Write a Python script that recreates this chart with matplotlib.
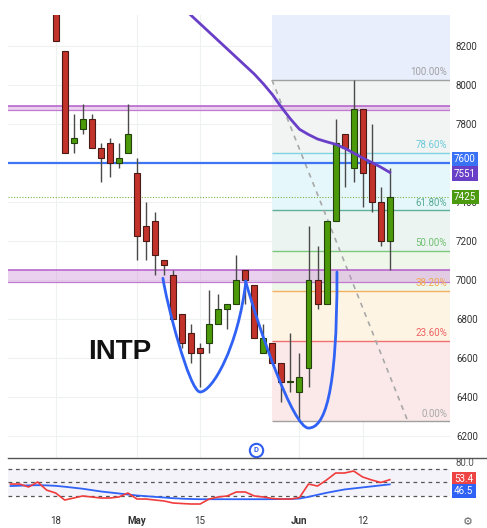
import numpy as np
import matplotlib
matplotlib.use("Agg")
import matplotlib.pyplot as plt
from matplotlib.lines import Line2D
from matplotlib.path import Path
from matplotlib.patches import PathPatch

plt.rcParams['font.family'] = ['Roboto', 'DejaVu Sans']

# daily candles, 18 Apr .. 19 Jun (trading days only)
opens = [8450, 8175, 7700, 7775, 7825, 7675, 7700, 7600, 7650, 7550,
         7275, 7300, 7100, 7025, 6825, 6725, 6650, 6675, 6775, 6850,
         6875, 7050, 6975, 6625, 6675, 6575, 6475, 6425, 6550, 7000,
         6875, 7300, 7750, 7575, 7875, 7600, 7400, 7200]
highs = [8500, 8175, 7850, 7900, 7850, 7700, 7725, 7700, 7900, 7625,
         7400, 7350, 7100, 7050, 6825, 6775, 6675, 6950, 6925, 6875,
         7125, 7050, 6975, 6775, 6675, 6575, 6725, 6625, 7275, 7175,
         7300, 7825, 7750, 8025, 7875, 7800, 7475, 7575]
lows = [8225, 7650, 7650, 7750, 7675, 7500, 7525, 7575, 7650, 7100,
        7100, 7025, 7025, 6800, 6650, 6575, 6450, 6625, 6775, 6750,
        6875, 6875, 6700, 6625, 6575, 6375, 6425, 6275, 6450, 6850,
        6875, 7300, 7475, 7500, 7375, 7350, 7175, 7050]
closes = [8225, 7650, 7725, 7825, 7675, 7625, 7600, 7625, 7750, 7225,
          7200, 7125, 7075, 6800, 6675, 6625, 6625, 6775, 6850, 6875,
          7000, 7000, 6700, 6700, 6575, 6475, 6475, 6500, 7000, 6875,
          7300, 7700, 7675, 7875, 7550, 7400, 7200, 7425]

date_pos = [0, 9, 16, 27, 34]
date_labels = ['18', 'May', '15', 'Jun', '12']

# moving average, starts at candle 14
ma_start = 14
ma_vals = [8400, 8356, 8313, 8270, 8227, 8184, 8141, 8098, 8055, 8005,
           7950, 7885, 7825, 7772, 7745, 7722, 7708, 7695, 7675, 7650,
           7625, 7602, 7578, 7551]

# oscillator panel, starts 5 bars before the first candle
osc_start = -5
osc_vals = [47, 47, 42.6, 50, 38,
            33.7, 23.3, 26.3, 29.3, 27.8, 26.3, 26.3, 27.8, 33.7, 24.8,
            24.8, 23.3, 21.9, 18.9, 18.1, 17.4, 17.4, 24.8, 27.8, 29.3,
            35.2, 35.2, 29.3, 27.8, 25.6, 24.8, 24.8, 27, 47, 44,
            53, 63.3, 63.3, 66.3, 57.4, 53, 49.3, 53.4]
osc_sig = [44.0, 44.5, 45.0, 45.3, 45.0,
           44.3, 43.0, 41.5, 40.0, 38.0, 36.0, 34.5, 33.0, 31.5, 30.0,
           29.0, 28.0, 27.0, 26.0, 25.3, 24.8, 24.5, 24.5, 24.5, 24.5,
           24.5, 24.5, 24.5, 24.5, 24.6, 24.7, 24.8, 25.5, 28.0, 31.0,
           34.0, 36.5, 39.0, 40.5, 42.0, 43.5, 45.0, 46.5]
osc_bands = [70, 50, 30]

# fibonacci retracement
fib_low = 6275
fib_high = 8025
fib_x0 = 23.95
fib_trend_x1 = 39
fib_levels = [0, 0.236, 0.382, 0.5, 0.618, 0.786, 1.0]
fib_names = ['0.00%', '23.60%', '38.20%', '50.00%', '61.80%', '78.60%', '100.00%']
fib_line_colors = ['#a0a0a0', '#f07070', '#f5b060', '#7cc87c', '#5fb09a', '#80d4e0', '#a0a0a0']
fib_text_colors = ['#a8a8a8', '#ee6060', '#f2a850', '#70c070', '#55aa92', '#6cccd9', '#a0a0a0']
fib_fills = ['#fbe9e9', '#fef4e4', '#eff7eb', '#ebf4f1', '#e6f7fb', '#f2f3f3']
fib_top_fill = '#e8eefc'

zone_hi = (7870, 7890)
zone_lo = (6990, 7050)
support = 7600
last_close = 7425

# hand drawn cups: bezier control points (bar index, price)
cup1 = [(11.88, 7008), (12.2, 6900), (14.8, 6425), (16.0, 6425),
        (17.3, 6425), (20.2, 6650), (21.07, 6994)]
cup2 = [(21.03, 6994), (22.5, 6750), (26.3, 6240), (28.0, 6240),
        (29.7, 6240), (31.2, 6400), (31.15, 7040)]

W, H = 487, 528
XMIN, XMAX = -5.28, 43.67
fig = plt.figure(figsize=(W / 100, H / 100), dpi=100)
ax = fig.add_axes([8 / W, 1 - 457.7 / H, 442 / W, 442.7 / H])
ax2 = fig.add_axes([8 / W, 1 - 512 / H, 442 / W, 54 / H])

ax.set_xlim(XMIN, XMAX)
ax.set_ylim(6088, 8358)
for s in ax.spines.values():
    s.set_visible(False)
ax.set_xticks(date_pos)
ax.set_yticks(range(6200, 8201, 200))
ax.yaxis.tick_right()
ax.tick_params(axis='y', length=0, pad=4.3, labelsize=7, labelcolor='#333333')
ax.tick_params(axis='x', length=0, labelbottom=False)
ax.grid(True, color='#eef2ef', lw=0.8, zorder=0)
ax.set_axisbelow(True)

# fib box
prices = [fib_low + f * (fib_high - fib_low) for f in fib_levels]
for i in range(len(fib_fills)):
    ax.fill_between([fib_x0, XMAX], prices[i], prices[i + 1], color=fib_fills[i], lw=0, zorder=1)
ax.fill_between([fib_x0, XMAX], fib_high, 8358, color=fib_top_fill, lw=0, zorder=1)
for p, name, lc, tc in zip(prices, fib_names, fib_line_colors, fib_text_colors):
    ax.hlines(p, fib_x0, XMAX, color=lc, lw=1, zorder=2)
    ax.annotate(name, xy=(0.993, p), xycoords=('axes fraction', 'data'),
                xytext=(0, 5.4), textcoords='offset points', ha='right', va='center',
                fontsize=7, color=tc, zorder=3)
ax.plot([fib_x0, fib_trend_x1], [fib_high, fib_low], color='#a8a8a8', lw=1.2,
        ls=(0, (3, 3)), zorder=2)

# zones and lines
for lo, hi in (zone_hi, zone_lo):
    ax.axhspan(lo, hi, fc='#cc88d8', alpha=0.38, lw=0, zorder=2)
    ax.axhline(hi, color='#b45cc8', lw=1.1, zorder=2)
    ax.axhline(lo, color='#c07ad0', lw=0.9, zorder=2)
ax.axhline(support, color='#3f74f2', lw=1.6, zorder=3)
ax.axhline(last_close, color='#7cb342', lw=0.8, ls=(0, (1, 1.5)), zorder=3)

# candles
x = np.arange(len(opens))
o = np.array(opens, float)
c = np.array(closes, float)
up = c >= o
body_lo = np.minimum(o, c)
body_h = np.maximum(np.abs(c - o), 6)
ax.vlines(x, lows, highs, color='#4a4a4a', lw=1, zorder=4)
ax.bar(x[up], body_h[up], bottom=body_lo[up], width=0.66, color='#4c9a0a',
       edgecolor='#24400c', lw=0.8, zorder=5)
ax.bar(x[~up], body_h[~up], bottom=body_lo[~up], width=0.66, color='#c2332b',
       edgecolor='#4a1a16', lw=0.8, zorder=5)

# moving average
ax.plot(np.arange(ma_start, ma_start + len(ma_vals)), ma_vals, color='#6a3fc8', lw=2, zorder=6)

# cups
codes = [Path.MOVETO] + [Path.CURVE4] * 6
for pts in (cup1, cup2):
    ax.add_patch(PathPatch(Path(pts, codes), fill=False, ec='#2f62f5', lw=2, zorder=6,
                           capstyle='round'))

ax.text(0.253, 0.239, 'INTP', transform=ax.transAxes, ha='center', va='center',
        fontsize=20, fontweight='bold', family='Liberation Sans', color='#111111', zorder=7)

# D marker
ax.plot([0.561], [0.0174], 'o', transform=ax.transAxes, ms=9.6, mfc='white',
        mec='#2f5ff0', mew=1.5, clip_on=False, zorder=8)
ax.text(0.561, 0.0174, 'D', transform=ax.transAxes, ha='center', va='center',
        fontsize=5.5, fontweight='bold', color='#2f5ff0', zorder=9)


def tag(axis, y, text, color, dy=0):
    axis.annotate(text, xy=(1, y), xycoords=('axes fraction', 'data'),
                  xytext=(3, dy), textcoords='offset points', ha='left', va='center',
                  color='white', fontsize=7,
                  bbox=dict(boxstyle='square,pad=0.22', fc=color, ec='none'),
                  annotation_clip=False, zorder=10)


tag(ax, support, '7600', '#3a72f5', dy=2.6)
tag(ax, ma_vals[-1], '7551', '#6a3fc8', dy=-0.9)
tag(ax, last_close, '7425', '#4c9a10')

# oscillator panel
ax2.set_xlim(XMIN, XMAX)
ax2.set_ylim(5.56, 85.56)
for s in ax2.spines.values():
    s.set_visible(False)
ax2.fill_between([XMIN, XMAX], osc_bands[2], osc_bands[0], color='#f5f3fa', lw=0)
for b in osc_bands:
    ax2.axhline(b, color='#555555', lw=0.9, ls=(0, (3, 3)))
xo = np.arange(osc_start, osc_start + len(osc_vals))
ax2.plot(xo, osc_sig, color='#2f62f5', lw=1.3)
ax2.plot(xo, osc_vals, color='#f03c3c', lw=1.2)
ax2.set_yticks([80], ['80.0'])
ax2.yaxis.tick_right()
ax2.tick_params(axis='y', length=0, pad=4.3, labelsize=7, labelcolor='#555555')
ax2.set_xticks(date_pos, date_labels)
ax2.tick_params(axis='x', length=0, pad=3.2, labelsize=7, labelcolor='#333333')
for lab in ax2.get_xticklabels():
    if lab.get_text() in ('May', 'Jun'):
        lab.set_fontweight('bold')
tag(ax2, osc_vals[-1], '53.4', '#ee4444', dy=0.6)
tag(ax2, osc_sig[-1], '46.5', '#2f62f5', dy=-5.0)

fig.add_artist(Line2D([8 / W, 1], [1 - 457.7 / H] * 2, transform=fig.transFigure,
                      color='#555555', lw=1))
fig.text(468 / W, 1 - 522 / H, '\u2699', ha='center', va='center', fontsize=8,
         color='#666666', family='DejaVu Sans')

fig.savefig('out.png', dpi=100, facecolor='white')
